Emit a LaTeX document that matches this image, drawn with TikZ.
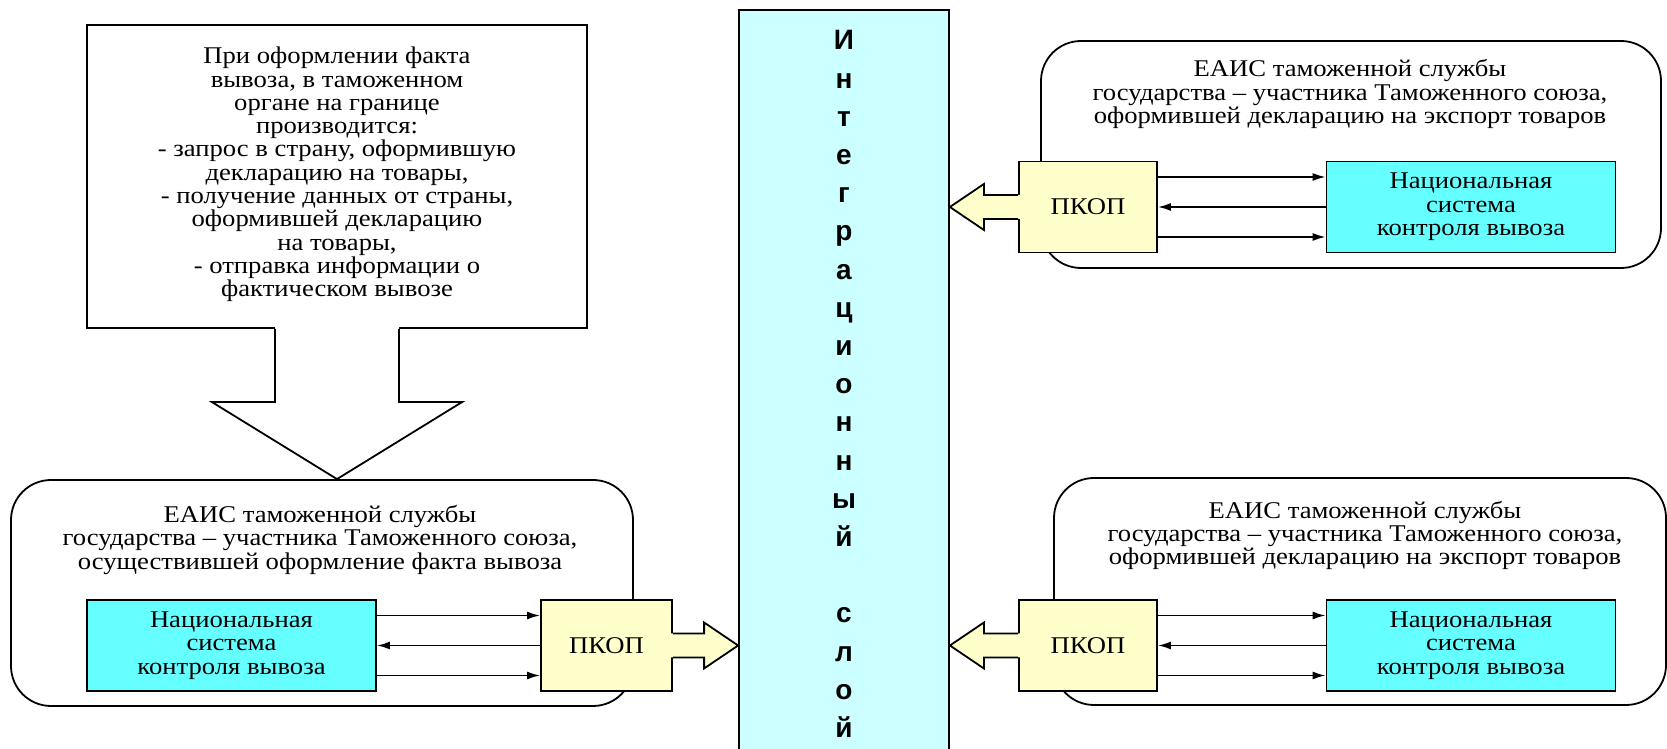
\documentclass[tikz,border=0pt]{standalone}
\usepackage{fontspec}
\setmainfont{Liberation Serif}[FakeStretch=1.11]
\setsansfont{Liberation Sans}
\usetikzlibrary{arrows.meta}
\definecolor{natcyan}{RGB}{102,255,255}
\definecolor{layercyan}{RGB}{204,255,255}
\definecolor{pkopyellow}{RGB}{255,255,204}

\begin{document}
\begin{tikzpicture}[x=1pt,y=1pt,>={Latex[length=13pt,width=8pt]},line width=1.8pt,
        txt/.style={font=\fontsize{24}{23.3}\selectfont,align=center,inner sep=0pt},
        note/.style={draw,fill=white,minimum width=500pt,minimum height=303pt},
        sys/.style={draw,rounded corners=40pt},
        nat/.style={draw,fill=natcyan,txt,minimum width=289pt,minimum height=91pt},
        pkop/.style={draw,fill=pkopyellow,txt,minimum height=91pt},
        layer/.style={draw,fill=layercyan,minimum width=210pt,minimum height=759pt},
        letters/.style={font=\fontsize{28}{38.2}\selectfont\sffamily\bfseries,align=center,inner sep=0pt}]
    \path[use as bounding box,clip] (0,0) rectangle (1667,749);

    \node[layer]            (layer)  at (844,359.5) {};
    \node[letters]          (word)   at (844,365) {И\\н\\т\\е\\г\\р\\а\\ц\\и\\о\\н\\н\\ы\\й\\[38.2pt]с\\л\\о\\й};

    % note with the big arrow down
    \node[note]             (note)   at (337,572.5) {};
    \node[txt]              (notetext) at ([yshift=2pt]note.center) {При оформлении факта\\вывоза, в таможенном\\органе на границе\\производится:\\- запрос в страну, оформившую\\декларацию на товары,\\- получение данных от страны,\\оформившей декларацию\\на товары,\\- отправка информации о\\фактическом вывозе};

    % three systems
    \node[sys,minimum width=622pt,minimum height=226pt] (sys1) at (322,156) {};
    \node[sys,minimum width=620pt,minimum height=227pt] (sys2) at (1351,594.5) {};
    \node[sys,minimum width=612pt,minimum height=227pt] (sys3) at (1360,157.5) {};
    \node[txt] (title1) at (320,209) {ЕАИС таможенной службы\\государства – участника Таможенного союза,\\осуществившей оформление факта вывоза};
    \node[txt] (title2) at (1350,655) {ЕАИС таможенной службы\\государства – участника Таможенного союза,\\оформившей декларацию на экспорт товаров};
    \node[txt] (title3) at (1365,213.5) {ЕАИС таможенной службы\\государства – участника Таможенного союза,\\оформившей декларацию на экспорт товаров};

    \node[nat]                       (nat1)  at (231.5,103.5) {Национальная\\система\\контроля вывоза};
    \node[pkop,minimum width=131pt]  (pkop1) at (606.5,103.5) {ПКОП};
    \node[pkop,minimum width=138pt]  (pkop2) at (1088,542)    {ПКОП};
    \node[nat]                       (nat2)  at (1471,542)    {Национальная\\система\\контроля вывоза};
    \node[pkop,minimum width=138pt]  (pkop3) at (1088,103.5)  {ПКОП};
    \node[nat]                       (nat3)  at (1471,103.5)  {Национальная\\система\\контроля вывоза};

    % big arrow from the note
    \coordinate (down) at (note.south |- sys1.north);
    \fill[white] ([xshift=-62pt,yshift=2pt]note.south) -- ([xshift=-62pt,yshift=77pt]down) -- ([xshift=-125pt,yshift=77pt]down) -- (down)
        -- ([xshift=125pt,yshift=77pt]down) -- ([xshift=62pt,yshift=77pt]down) -- ([xshift=62pt,yshift=2pt]note.south) -- cycle;
    \draw[line join=miter] ([xshift=-62pt]note.south) -- ([xshift=-62pt,yshift=77pt]down) -- ([xshift=-125pt,yshift=77pt]down) -- (down)
        -- ([xshift=125pt,yshift=77pt]down) -- ([xshift=62pt,yshift=77pt]down) -- ([xshift=62pt]note.south);

    % fat arrows into the layer
    \foreach \p/\a/\t/\s in {pkop1/east/west/1, pkop2/west/east/-1, pkop3/west/east/-1} {
        \coordinate (tip) at (layer.\t |- \p);
        \fill[pkopyellow] ([xshift={\s*(-2pt)},yshift=12pt]\p.\a) -- ([xshift={\s*(-34pt)},yshift=12pt]tip) -- ([xshift={\s*(-34pt)},yshift=23pt]tip) -- (tip)
            -- ([xshift={\s*(-34pt)},yshift=-23pt]tip) -- ([xshift={\s*(-34pt)},yshift=-12pt]tip) -- ([xshift={\s*(-2pt)},yshift=-12pt]\p.\a) -- cycle;
        \draw[line join=miter] ([yshift=12pt]\p.\a) -- ([xshift={\s*(-34pt)},yshift=12pt]tip) -- ([xshift={\s*(-34pt)},yshift=23pt]tip) -- (tip)
            -- ([xshift={\s*(-34pt)},yshift=-23pt]tip) -- ([xshift={\s*(-34pt)},yshift=-12pt]tip) -- ([yshift=-12pt]\p.\a);
    }

    % exchange between system and ПКОП
    \foreach \l/\r in {nat1/pkop1, pkop2/nat2, pkop3/nat3} {
        \draw[->] ([yshift=30pt]\l.east) -- ([yshift=30pt]\r.west);
        \draw[<-] (\l.east) -- (\r.west);
        \draw[->] ([yshift=-30pt]\l.east) -- ([yshift=-30pt]\r.west);
    }
\end{tikzpicture}
\end{document}
